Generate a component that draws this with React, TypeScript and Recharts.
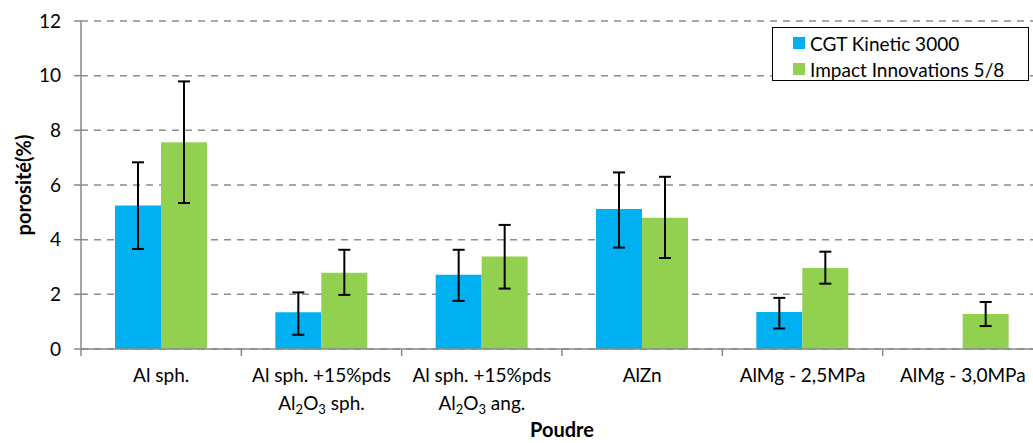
import React from 'react';
import { BarChart, Bar, XAxis, YAxis, CartesianGrid, ErrorBar, Label } from 'recharts';

const categories = ['Al sph.', 'Al sph. +15%pds|Al_2O_3 sph.', 'Al sph. +15%pds|Al_2O_3 ang.', 'AlZn', 'AlMg - 2,5MPa', 'AlMg - 3,0MPa'];
const cgt = [5.25, 1.34, 2.72, 5.12, 1.35, 0];
const cgtLow = [3.66, 0.52, 1.76, 3.71, 0.75, 0];
const cgtHigh = [6.83, 2.07, 3.63, 6.46, 1.87, 0];
const impact = [7.56, 2.79, 3.38, 4.8, 2.96, 1.28];
const impactLow = [5.34, 1.98, 2.21, 3.33, 2.39, 0.84];
const impactHigh = [9.79, 3.63, 4.54, 6.3, 3.56, 1.72];
const yTicks = [0, 2, 4, 6, 8, 10, 12];
const seriesNames = ['CGT Kinetic 3000', 'Impact Innovations 5/8'];

const BLUE = '#00B0F0';
const GREEN = '#92D050';
const FONT = 'Lato, "Open Sans", sans-serif';

const data = categories.map((name, i) => ({
  name,
  cgt: cgt[i],
  cgtErr: [cgt[i] - cgtLow[i], cgtHigh[i] - cgt[i]],
  impact: impact[i],
  impactErr: [impact[i] - impactLow[i], impactHigh[i] - impact[i]],
}));

// "_2" means subscript 2
const renderLine = (line: string) => {
  const parts = line.split(/(_\d)/);
  return parts.map((p, k) =>
    p.startsWith('_') ? (
      <tspan key={k} fontSize={13} dy={4}>{p.slice(1)}</tspan>
    ) : (
      <tspan key={k} dy={k > 0 && parts[k - 1].startsWith('_') ? -4 : 0}>{p}</tspan>
    )
  );
};

const MARGIN_TICK = 14;

const CatTick = (props: any) => {
  const { x, y, payload } = props;
  const axisY = y - MARGIN_TICK;
  const lines = String(payload.value).split('|');
  const bx = x - (payload.offset || 0);
  return (
    <g>
      <line x1={bx} y1={axisY} x2={bx} y2={axisY + 7} stroke="#888" strokeWidth={1.5} />
      {lines.map((l, i) => (
        <text key={i} x={x} y={y + 19 + i * 28} textAnchor="middle" fill="#000" fontSize={19} fontFamily={FONT}>
          {renderLine(l)}
        </text>
      ))}
    </g>
  );
};

const LegendBox = () => (
  <div style={{ position: 'absolute', left: 772, top: 27, border: '1px solid #000', background: '#fff', width: 257, height: 54, boxSizing: 'border-box', paddingLeft: 20, paddingTop: 3, fontFamily: FONT, fontSize: 19, color: '#000' }}>
    {seriesNames.map((t, i) => (
      <div key={t} style={{ display: 'flex', alignItems: 'center', height: 24, marginBottom: 2 }}>
        <span style={{ display: 'inline-block', width: 12, height: 12, background: i === 0 ? BLUE : GREEN, marginRight: 5 }} />
        <span>{t}</span>
      </div>
    ))}
  </div>
);

export default function App() {
  return (
    <div style={{ position: 'fixed', left: 0, top: 0, width: 1033, height: 443, overflow: 'hidden', background: '#fff' }}>
      <BarChart width={1050} height={443} data={data} margin={{ top: 21, right: 7, left: 0, bottom: 0 }} barGap={0} barSize={46}>
        <CartesianGrid vertical={false} stroke="#8c8c8c" strokeWidth={1.5} strokeDasharray="7 6" />
        <XAxis
          dataKey="name"
          height={94}
          interval={0}
          axisLine={{ stroke: '#888', strokeWidth: 1.5 }}
          tickLine={false}
          tickSize={0}
          tickMargin={MARGIN_TICK}
          tick={<CatTick />}
        >
          <Label
            content={({ viewBox }: any) => (
              <text x={viewBox.x + viewBox.width / 2} y={viewBox.y + 88} textAnchor="middle" fontFamily={FONT} fontWeight="bold" fontSize={20} fill="#000">
                Poudre
              </text>
            )}
          />
        </XAxis>
        <YAxis
          width={81}
          domain={[0, 12]}
          ticks={yTicks}
          interval={0}
          axisLine={{ stroke: '#888', strokeWidth: 1.5 }}
          tickLine={{ stroke: '#888', strokeWidth: 1.5 }}
          tickSize={7}
          tickMargin={13}
          tick={{ fill: '#000', fontSize: 19, fontFamily: FONT }}
        >
          <Label
            content={({ viewBox }: any) => {
              const cx = viewBox.x + 23;
              const cy = viewBox.y + viewBox.height / 2;
              return (
                <text x={cx} y={cy} transform={`rotate(-90 ${cx} ${cy})`} textAnchor="middle" dominantBaseline="central" fontFamily={FONT} fontWeight="bold" fontSize={20} fill="#000">
                  porosité(%)
                </text>
              );
            }}
          />
        </YAxis>
        <Bar dataKey="cgt" name={seriesNames[0]} fill={BLUE} isAnimationActive={false}>
          <ErrorBar dataKey="cgtErr" width={6} stroke="#000" strokeWidth={2} direction="y" />
        </Bar>
        <Bar dataKey="impact" name={seriesNames[1]} fill={GREEN} isAnimationActive={false}>
          <ErrorBar dataKey="impactErr" width={6} stroke="#000" strokeWidth={2} direction="y" />
        </Bar>
      </BarChart>
      <LegendBox />
    </div>
  );
}
